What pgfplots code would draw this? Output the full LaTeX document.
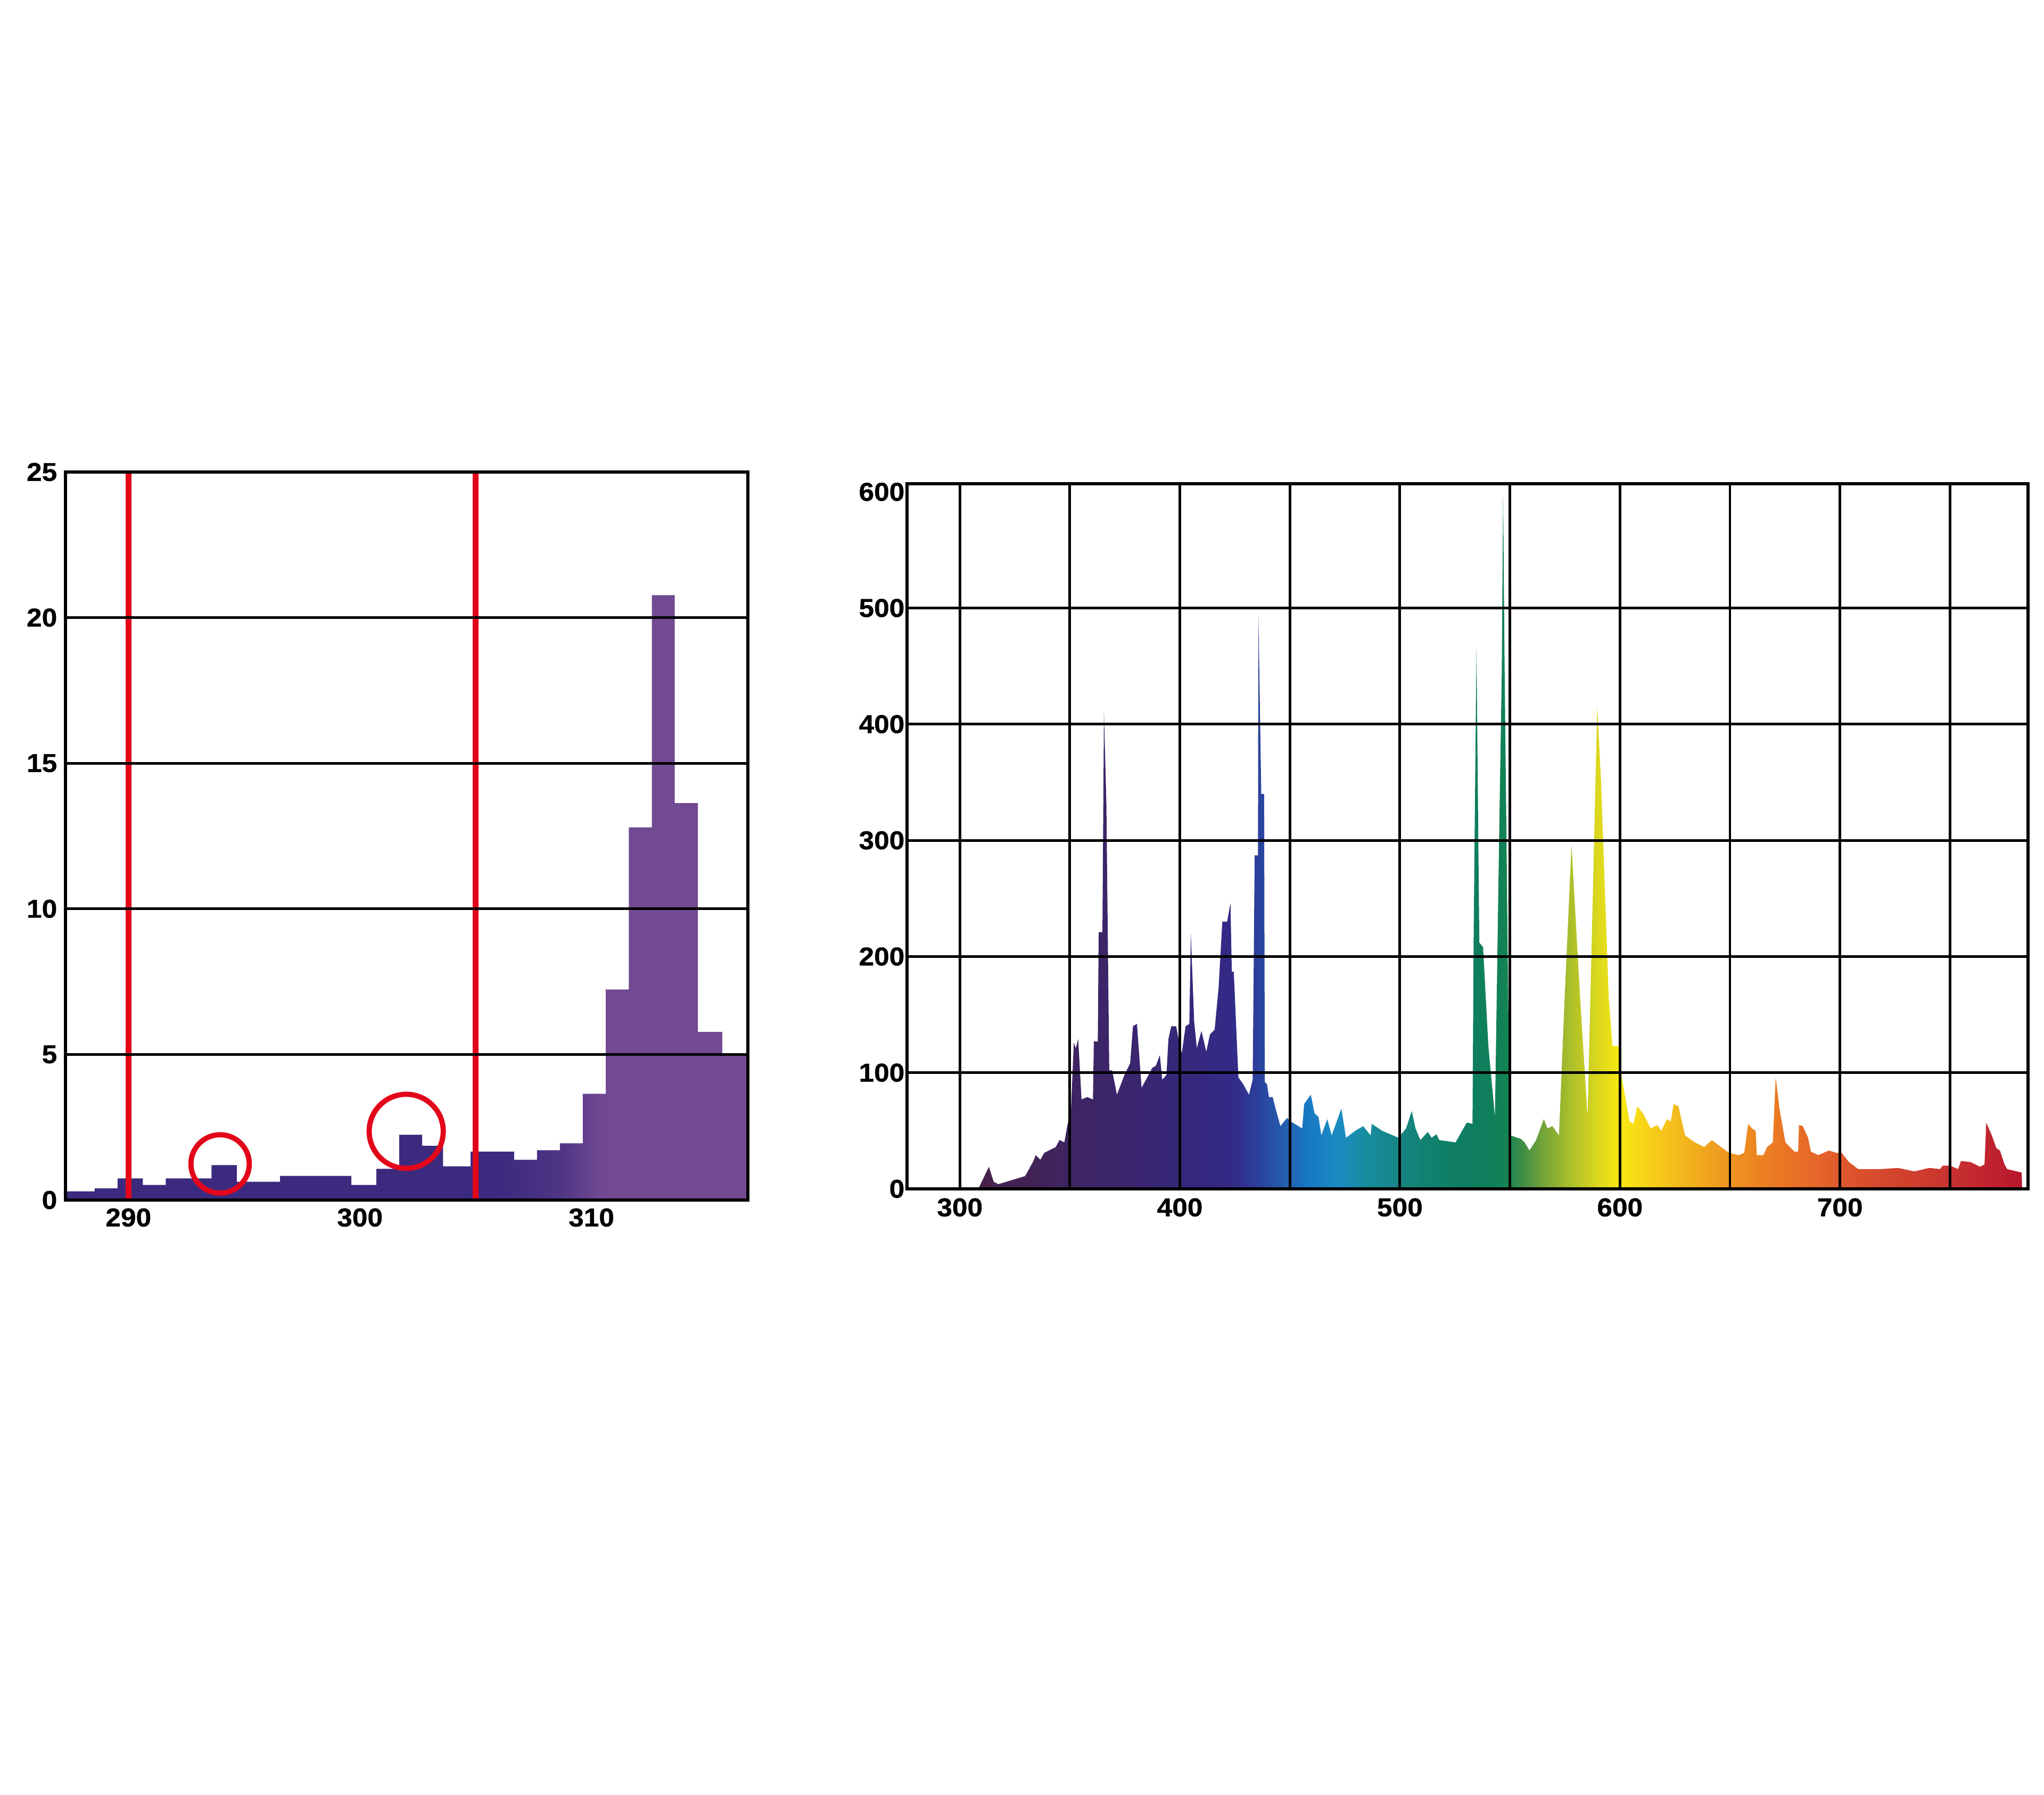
\documentclass[border=0pt]{standalone}
\usepackage{fontspec}
\setmainfont{Liberation Sans}
\newfontfamily\tickfont[FakeStretch=1.06, FakeBold=0.8]{Liberation Sans Bold}
\usepackage{pgfplots}
\pgfplotsset{compat=1.18}
\definecolor{uvdark}{HTML}{3C2A7E}
\definecolor{uvlight}{HTML}{724A92}
\colorlet{uvmid}{uvdark!65!uvlight}
\definecolor{mkred}{HTML}{E3061B}
\definecolor{sA}{HTML}{4A2148}
\definecolor{sB}{HTML}{3E2460}
\definecolor{sC}{HTML}{3A2670}
\definecolor{sD}{HTML}{35287F}
\definecolor{sE}{HTML}{332B88}
\definecolor{sF}{HTML}{2A46A0}
\definecolor{sG}{HTML}{2460AE}
\definecolor{sH}{HTML}{1778C2}
\definecolor{sI}{HTML}{1C8CC4}
\definecolor{sJ}{HTML}{178C9E}
\definecolor{sK}{HTML}{168583}
\definecolor{sL}{HTML}{107F68}
\definecolor{sM}{HTML}{0E7E5E}
\definecolor{sN}{HTML}{138255}
\definecolor{sO}{HTML}{3C8D48}
\definecolor{sP}{HTML}{73A43A}
\definecolor{sQ}{HTML}{AEC02A}
\definecolor{sR}{HTML}{DCD81E}
\definecolor{sS}{HTML}{F8E812}
\definecolor{sT}{HTML}{F7D218}
\definecolor{sU}{HTML}{F2B41E}
\definecolor{sV}{HTML}{EE941F}
\definecolor{sW}{HTML}{EB7A22}
\definecolor{sX}{HTML}{E5652A}
\definecolor{sY}{HTML}{DA4E2C}
\definecolor{sZ}{HTML}{CC3A2E}
\definecolor{sZa}{HTML}{C42A30}
\definecolor{sZb}{HTML}{B8182C}
\pgfdeclarehorizontalshading{uvbars}{100bp}{color(0bp)=(uvdark); color(56.8bp)=(uvdark); color(61.2bp)=(uvmid); color(64.5bp)=(uvlight); color(100bp)=(uvlight)}
\pgfdeclarehorizontalshading{spec}{100bp}{color(0bp)=(sA); color(27.85bp)=(sA); color(32.26bp)=(sB); color(35.21bp)=(sC); color(38.15bp)=(sD); color(39.62bp)=(sE); color(40.90bp)=(sF); color(41.88bp)=(sG); color(42.86bp)=(sH); color(44.24bp)=(sI); color(45.51bp)=(sJ); color(46.98bp)=(sK); color(48.95bp)=(sL); color(50.42bp)=(sM); color(51.69bp)=(sN); color(52.38bp)=(sO); color(53.36bp)=(sP); color(54.64bp)=(sQ); color(55.82bp)=(sR); color(56.80bp)=(sS); color(57.98bp)=(sT); color(59.74bp)=(sU); color(61.70bp)=(sV); color(63.67bp)=(sW); color(65.63bp)=(sX); color(67.59bp)=(sY); color(70.54bp)=(sZ); color(72.50bp)=(sZa); color(74.66bp)=(sZb); color(100bp)=(sZb)}
\begin{document}
\begin{tikzpicture}
\path[use as bounding box] (0,0) rectangle (38.4cm,33.72cm);
\pgfplotsset{
  mystyle/.style={
    scale only axis, anchor=south west,
    enlargelimits=false, axis on top,
    major tick length=0pt,
    axis line style={line width=1.6pt, black},
    grid style={line width=1.4pt, black},
    tick label style={font=\fontsize{13.8}{16}\tickfont, text=black},
    /pgf/number format/assume math mode=true,
  }
}
% ---------- left: UV histogram ----------
\begin{axis}[mystyle,
  at={(1.23cm,11.17cm)}, width=12.82cm, height=13.68cm,
  xmin=287.28, xmax=316.76, ymin=0, ymax=25,
  xtick={290,300,310}, ytick={0,5,10,15,20,25},
  ymajorgrids,
  xticklabel style={inner ysep=0pt, yshift=-1.5mm},
  yticklabel style={inner xsep=0pt, xshift=-1.5mm},
  clip=false]
\addplot[const plot, draw=none, shade, shading=uvbars] coordinates {
(287.28,0.30) (288.54,0.40) (289.53,0.74) (290.62,0.52) (291.61,0.74)
(293.59,1.20) (294.68,0.63) (296.55,0.83) (299.63,0.52) (300.71,1.07)
(301.70,2.24) (302.69,1.86) (303.59,1.16) (304.78,1.66) (306.66,1.38)
(307.65,1.71) (308.64,1.95) (309.63,3.65) (310.62,7.23) (311.62,12.8)
(312.61,20.77) (313.60,13.63) (314.60,5.77) (315.65,5.0) (316.76,5.0)} \closedcycle;
\addplot[mkred, line width=3.1pt] coordinates {(290,0) (290,25)};
\addplot[mkred, line width=3.1pt] coordinates {(305,0) (305,25)};
\addplot[only marks, mark=o, mark size=15.6pt, mark options={mkred, line width=2.8pt}] coordinates {(293.96,1.24)};
\addplot[only marks, mark=o, mark size=19.8pt, mark options={mkred, line width=2.8pt}] coordinates {(302.0,2.36)};
\end{axis}
% ---------- right: lamp spectrum ----------
\begin{axis}[mystyle,
  at={(17.04cm,11.38cm)}, width=21.06cm, height=13.25cm,
  xmin=276, xmax=785.5, ymin=0, ymax=607,
  xtick={300,350,...,750}, xticklabels={300,,400,,500,,600,,700,},
  ytick={0,100,...,500},
  extra y ticks={600}, extra y tick style={grid=none},
  xmajorgrids, ymajorgrids,
  xticklabel style={inner ysep=0pt, yshift=-1.7mm},
  yticklabel style={inner xsep=0pt, xshift=-0.4mm}]
\addplot[draw=none, shade, shading=spec] coordinates {
(276,0) (308.4,0) (313.2,19) (315.4,6) (317.5,4) (324.5,8) (329.7,11) (333.2,23)
(334.5,29) (336.6,25) (338.4,31) (343.6,36) (345.3,42) (347.5,40) (348.8,54)
(350.5,67) (351.8,126) (352.7,121) (353.8,129) (355.3,77) (357.9,79) (360.5,77)
(360.9,127) (362.7,127) (363.1,221) (364.8,221) (365.5,410) (366.6,331)
(367.9,102) (369.2,102) (371.4,81) (374.8,98) (377.4,108) (378.7,140) (380.5,142)
(382.6,87) (385.2,96) (387.4,104) (389.1,106) (390.9,115) (392,94) (393.9,98)
(394.8,129) (396.1,140) (398.3,140) (400,123) (400.9,117) (402.6,140) (404.3,142)
(405,219) (406.5,144) (407.7,121) (409.8,136) (412,118) (413.7,133) (415.8,137)
(417.6,173) (419.3,230) (421.5,230) (423,246) (423.6,187) (424.5,187) (426.6,96)
(428.8,90) (431.4,81) (433.1,94) (434,287) (435.5,287) (435.7,494) (437,340)
(438.3,340) (438.6,92) (439.6,90) (440.5,79) (442.2,79) (443.5,69) (445.7,54)
(448.7,61) (450.4,58) (455.6,52) (456.5,73) (459.5,81) (461.2,65) (463,62)
(464.3,46) (467,60) (469,46) (473.4,69) (475.5,44) (479.8,50) (483.3,54)
(486.7,46) (487.2,56) (491.9,50) (499.3,44) (502.8,52) (505.4,67) (507.1,52)
(509.3,42) (512.7,49) (514.4,44) (516.6,47) (517.9,42) (525.3,40) (530.4,57)
(533,56) (533.5,212) (534.8,465) (536.1,212) (537.8,208) (540.2,123) (543.2,62)
(545,290) (546.3,444) (546.9,597) (547.6,448) (549.3,154) (550.2,46) (555,43)
(556.7,40) (558.9,33) (561.9,42) (565.4,60) (567.1,52) (569.3,54) (572.3,46)
(574.9,165) (578,296) (581.9,165) (585.3,62) (587.1,206) (589.7,415) (591.4,352)
(594.9,165) (596.6,123) (599.2,123) (601,94) (604.4,58) (606.2,56) (607.9,71)
(610.5,65) (614,52) (617,55) (618.8,50) (621.4,60) (623.1,58) (624.4,73)
(626.6,71) (629.6,46) (634,40) (638.3,36) (641.8,42) (645.2,37) (649.6,31)
(653.9,29) (656.5,31) (658.3,56) (660,52) (661.7,50) (662.2,29) (665.2,29)
(666.9,36) (669.5,40) (670.8,96) (672.5,69) (675.2,40) (679.3,32) (681,32)
(681.4,55) (683.1,54) (685.5,44) (686.8,32) (690.1,29) (695,33) (698.3,31)
(700.8,31) (704.1,23) (708.3,17) (718.2,17) (726.4,18) (733.9,15) (740.5,18)
(745.5,17) (746.7,20) (750,20) (753.7,17) (755,24) (759.5,23) (763.6,19)
(765.7,21) (766.5,57) (769,46) (771.1,35) (772.7,33) (774.8,21) (776,17)
(782.6,14) (782.8,0) (785.5,0)} \closedcycle;
\end{axis}
\end{tikzpicture}
\end{document}
